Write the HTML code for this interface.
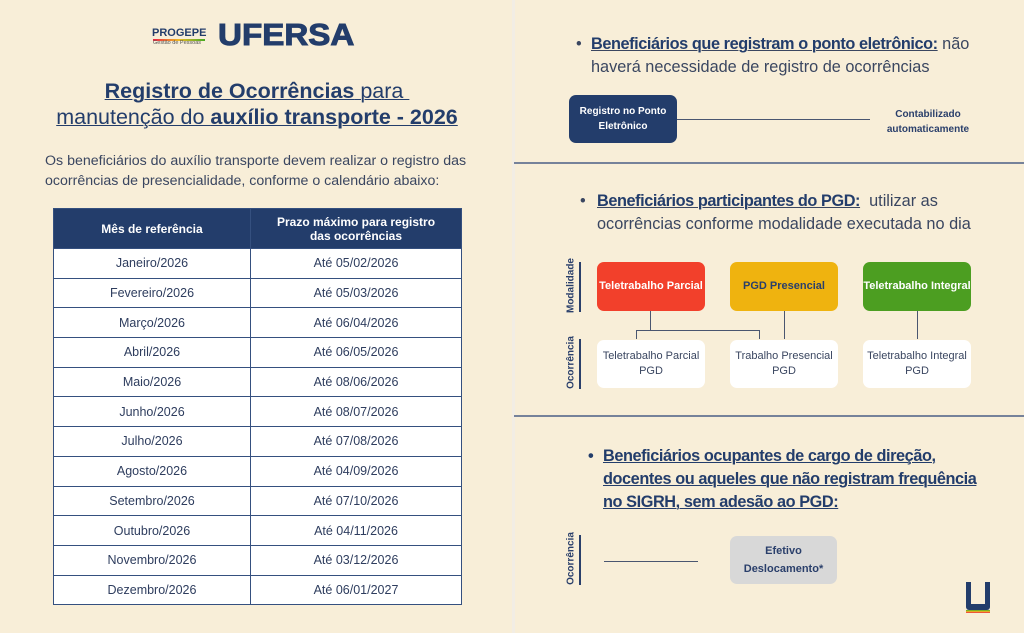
<!DOCTYPE html>
<html><head><meta charset="utf-8"><style>
*{margin:0;padding:0;box-sizing:border-box}
body{width:1024px;height:633px;background:#f8eed8;font-family:"Liberation Sans",sans-serif;position:relative;overflow:hidden;color:#2a3a5c}
.a{position:absolute}
table{border-collapse:collapse;position:absolute;left:53px;top:208px;width:409px}
td,th{border:1px solid #35507f;text-align:center;font-size:12.5px;color:#2e3d5e}
th{background:#233d6b;color:#fff;height:40px;font-size:12px}
td{background:#fff;height:29.7px}
.box{position:absolute;border-radius:7px;display:flex;align-items:center;justify-content:center;text-align:center;font-size:11px;line-height:15px}
.vl{position:absolute;width:2px;background:#2a3f6b}
.rot{position:absolute;transform:rotate(-90deg);transform-origin:center;font-size:10px;font-weight:bold;color:#2a3f6b;white-space:nowrap}
.hl{position:absolute;height:2px;background:#76829a;left:514px;width:510px}
.ln{position:absolute;background:#4a5670}
u{text-decoration-thickness:1px}
.t{letter-spacing:-0.42px}
</style></head><body>
<div class="a" style="left:512px;top:0;width:3px;height:633px;background:#f2ede4"></div>
<div class="a" style="left:152px;top:27px;font-size:11px;font-weight:bold;color:#233d6b">PROGEPE</div>
<div class="a" style="left:153px;top:39px;width:52px;height:2px;background:linear-gradient(90deg,#e24,#eb2,#4a2)"></div>
<div class="a" style="left:153px;top:40px;font-size:5.5px;color:#555">Gestão de Pessoas</div>
<div class="a" style="left:218px;top:17px;font-size:31px;font-weight:900;color:#233d6b;transform:scaleX(1.07);transform-origin:left;-webkit-text-stroke:1px #233d6b">UFERSA</div>
<div class="a" style="left:0;width:514px;top:78px;text-align:center;font-size:21.5px;line-height:26px;color:#233d6b">
<u><b>Registro de Ocorrências</b> para&nbsp;</u><br><u>manutenção do <b>auxílio transporte - 2026</b></u></div>
<div class="a" style="left:45px;top:151px;width:440px;font-size:14.2px;line-height:20px;color:#3a4660">Os beneficiários do auxílio transporte devem realizar o registro das ocorrências de presencialidade, conforme o calendário abaixo:</div>
<table>
<tr><th style="width:197px">Mês de referência</th><th>Prazo máximo para registro<br>das ocorrências</th></tr>
<tr><td>Janeiro/2026</td><td>Até 05/02/2026</td></tr>
<tr><td>Fevereiro/2026</td><td>Até 05/03/2026</td></tr>
<tr><td>Março/2026</td><td>Até 06/04/2026</td></tr>
<tr><td>Abril/2026</td><td>Até 06/05/2026</td></tr>
<tr><td>Maio/2026</td><td>Até 08/06/2026</td></tr>
<tr><td>Junho/2026</td><td>Até 08/07/2026</td></tr>
<tr><td>Julho/2026</td><td>Até 07/08/2026</td></tr>
<tr><td>Agosto/2026</td><td>Até 04/09/2026</td></tr>
<tr><td>Setembro/2026</td><td>Até 07/10/2026</td></tr>
<tr><td>Outubro/2026</td><td>Até 04/11/2026</td></tr>
<tr><td>Novembro/2026</td><td>Até 03/12/2026</td></tr>
<tr><td>Dezembro/2026</td><td>Até 06/01/2027</td></tr>
</table>

<div class="a" style="left:576px;top:33px;font-size:16.3px;line-height:23px;color:#3a4660;white-space:nowrap"><span style="position:absolute;left:0">•</span><span style="margin-left:15px"><u><b class="t" style="color:#233d6b">Beneficiários que registram o ponto eletrônico:</b></u> não</span><br><span style="margin-left:15px">haverá necessidade de registro de ocorrências</span></div>
<div class="box" style="left:569px;top:95px;width:108px;height:48px;background:#233d6b;color:#fff;font-weight:bold;font-size:10px">Registro no Ponto<br>Eletrônico</div>
<div class="ln" style="left:677px;top:119px;width:193px;height:1px"></div>
<div class="a" style="left:878px;top:107px;width:100px;text-align:center;font-size:10px;line-height:15px;font-weight:bold;color:#2a3f6b">Contabilizado<br>automaticamente</div>
<div class="hl" style="top:162px"></div>

<div class="a" style="left:580px;top:190px;font-size:16.3px;line-height:23px;color:#3a4660;white-space:nowrap"><span style="position:absolute;left:0">•</span><span style="margin-left:17px"><u><b class="t" style="color:#233d6b">Beneficiários participantes do PGD:</b></u>&nbsp; utilizar as</span><br><span style="margin-left:17px">ocorrências conforme modalidade executada no dia</span></div>
<div class="vl" style="left:579px;top:262px;height:50px"></div>
<div class="rot" style="left:541px;top:280px;width:60px;text-align:center">Modalidade</div>
<div class="vl" style="left:579px;top:339px;height:50px"></div>
<div class="rot" style="left:541px;top:357px;width:60px;text-align:center">Ocorrência</div>
<div class="box" style="left:597px;top:262px;width:108px;height:49px;background:#f2402b;color:#fff;font-weight:bold">Teletrabalho Parcial</div>
<div class="box" style="left:730px;top:262px;width:108px;height:49px;background:#efb30f;color:#2a3f6b;font-weight:bold">PGD Presencial</div>
<div class="box" style="left:863px;top:262px;width:108px;height:49px;background:#4c9e21;color:#fff;font-weight:bold">Teletrabalho Integral</div>
<div class="box" style="left:597px;top:340px;width:108px;height:48px;background:#fff;color:#3a4660">Teletrabalho Parcial<br>PGD</div>
<div class="box" style="left:730px;top:340px;width:108px;height:48px;background:#fff;color:#3a4660">Trabalho Presencial<br>PGD</div>
<div class="box" style="left:863px;top:340px;width:108px;height:48px;background:#fff;color:#3a4660">Teletrabalho Integral<br>PGD</div>
<div class="ln" style="left:650px;top:311px;width:1px;height:19px"></div>
<div class="ln" style="left:636px;top:330px;width:124px;height:1px"></div>
<div class="ln" style="left:636px;top:330px;width:1px;height:9px"></div>
<div class="ln" style="left:759px;top:330px;width:1px;height:9px"></div>
<div class="ln" style="left:784px;top:311px;width:1px;height:28px"></div>
<div class="ln" style="left:917px;top:311px;width:1px;height:28px"></div>
<div class="hl" style="top:415px"></div>

<div class="a" style="left:588px;top:445px;font-size:16.3px;line-height:23px;color:#233d6b;font-weight:bold;white-space:nowrap"><span style="position:absolute;left:0">•</span><div class="t" style="margin-left:15px"><u>Beneficiários ocupantes de cargo de direção,</u><br><u>docentes ou aqueles que não registram frequência</u><br><u>no SIGRH, sem adesão ao PGD:</u></div></div>
<div class="vl" style="left:579px;top:535px;height:50px"></div>
<div class="rot" style="left:541px;top:553px;width:60px;text-align:center">Ocorrência</div>
<div class="ln" style="left:604px;top:561px;width:94px;height:1px"></div>
<div class="box" style="left:730px;top:536px;width:107px;height:48px;background:#d8d8d8;color:#2a3f6b;font-weight:bold;font-size:11px;line-height:18px">Efetivo<br>Deslocamento*</div>
<div class="a" style="left:966px;top:582px;width:24px;height:28px;background:#233d6b;border-radius:0 0 3px 3px"></div>
<div class="a" style="left:971px;top:582px;width:14px;height:22px;background:#f8eed8"></div>
<div class="a" style="left:966px;top:610px;width:24px;height:3px;background:linear-gradient(#4a2,#eb2,#e24)"></div>
</body></html>
